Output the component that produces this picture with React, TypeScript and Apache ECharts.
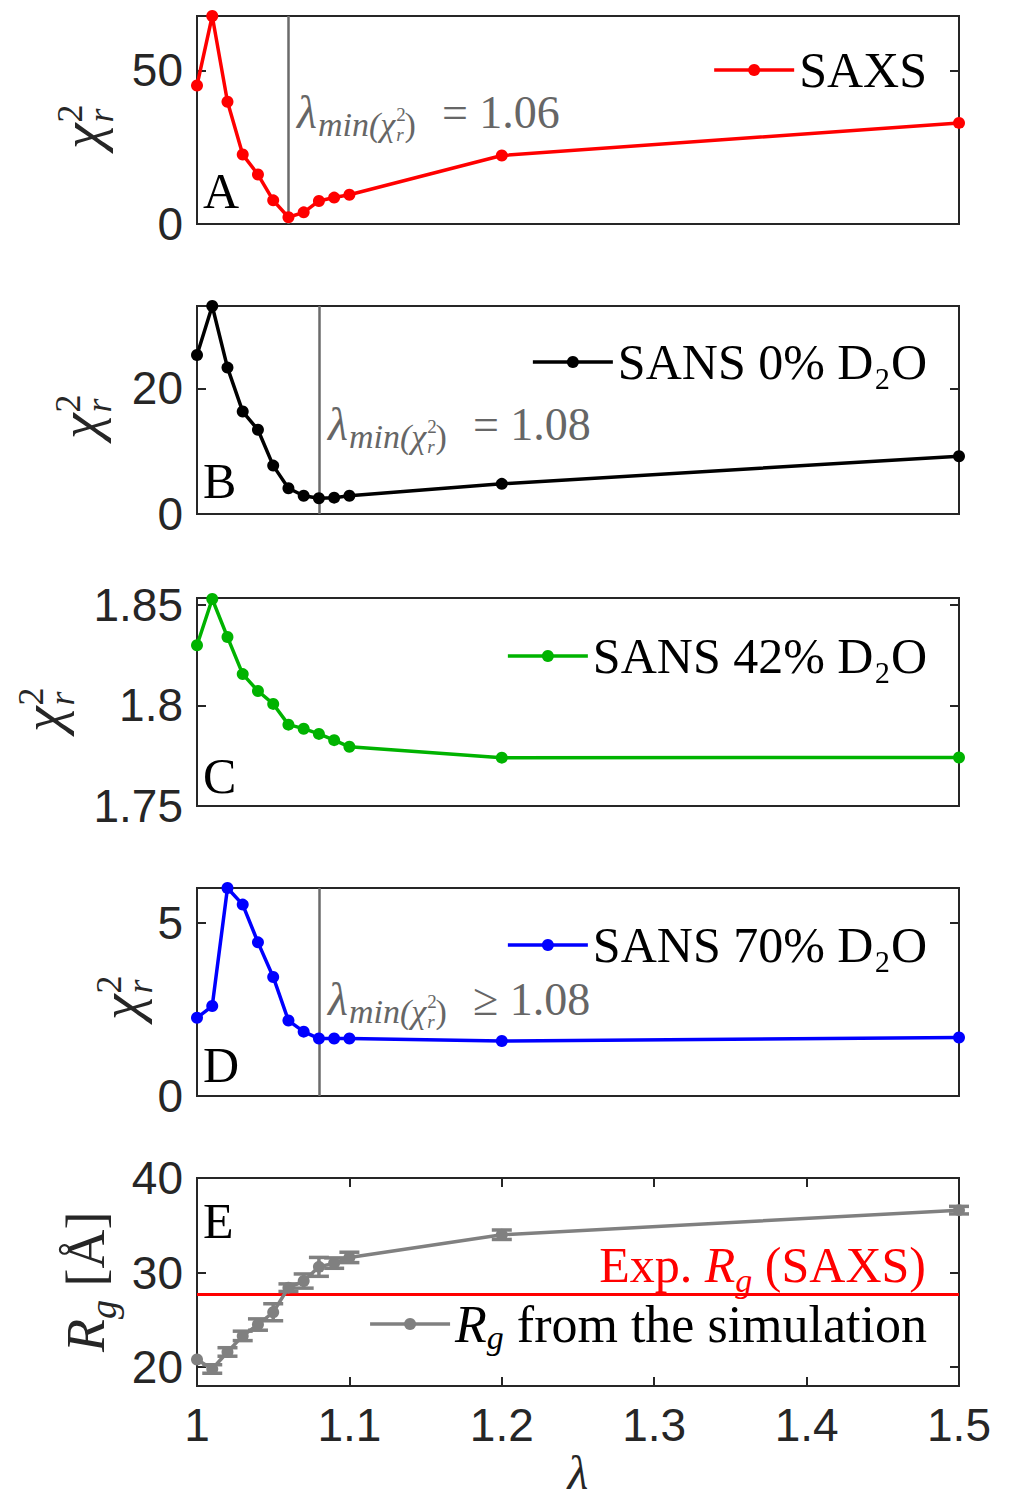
import React, { useEffect, useRef } from "react";
import * as echarts from "echarts";

// ---------------- data ----------------
const lambda = [1.0, 1.01, 1.02, 1.03, 1.04, 1.05, 1.06, 1.07, 1.08, 1.09, 1.1, 1.2, 1.5];
const chiSAXS = [45.1, 67.7, 39.8, 22.6, 16.1, 7.7, 2.2, 3.8, 7.5, 8.6, 9.5, 22.3, 32.9];
const chiSANS0 = [25.3, 33.1, 23.3, 16.3, 13.4, 7.7, 4.1, 2.9, 2.5, 2.6, 2.9, 4.8, 9.2];
const chiSANS42 = [1.8298, 1.8528, 1.8339, 1.8155, 1.8071, 1.8007, 1.7904, 1.7884, 1.7858, 1.7827, 1.7794, 1.774, 1.7741];
const chiSANS70 = [2.26, 2.6, 6.01, 5.53, 4.44, 3.44, 2.18, 1.86, 1.66, 1.66, 1.66, 1.59, 1.69];
const rgSim = [20.8, 19.8, 21.6, 23.3, 24.5, 25.8, 28.4, 29.1, 30.6, 31.0, 31.6, 34.0, 36.6];
const rgErr = [0, 0.45, 0.45, 0.5, 0.6, 0.9, 0.4, 0.75, 1.0, 0.55, 0.55, 0.5, 0.4];
const rgExp = 27.7;
const lambdaMinA = 1.06;
const lambdaMinB = 1.08;
const lambdaMinD = 1.08;
const seriesNames = ["SAXS", "SANS 0% D₂O", "SANS 42% D₂O", "SANS 70% D₂O", "Rg"];
const panelLetters = ["A", "B", "C", "D", "E"];
const yRanges: any[] = [
  { min: 0, max: 67.7, interval: 50, hideMin: false, hideMax: true },
  { min: 0, max: 33.1, interval: 20, hideMin: false, hideMax: true },
  { min: 1.75, max: 1.8533, interval: 0.05, hideMin: false, hideMax: true },
  { min: 0, max: 6.01, interval: 5, hideMin: false, hideMax: true },
  { min: 18, max: 40, splitNumber: 2, hideMin: true, hideMax: false },
];

// ---------------- layout / style ----------------
const SERIF = "Liberation Serif";
const SANS = "Liberation Sans";
const AXIS_COLOR = "#262626";
const ANNOT_COLOR = "#666666";
const GRID_LEFT = 197;
const GRID_WIDTH = 762;
const GRID_HEIGHT = 208;
const GRID_TOPS = [16, 306, 598, 888, 1178];
const LEGEND_CENTERS = [70, 362, 656, 945, 1328];
const COLORS = ["#ff0000", "#000000", "#00b300", "#0000ff", "#808080"];
const LINE_W = 3.5;

let _ctx: CanvasRenderingContext2D | null = null;
function textWidth(text: string, font: string) {
  if (!_ctx) _ctx = document.createElement("canvas").getContext("2d");
  _ctx!.font = font;
  return _ctx!.measureText(text).width;
}

type Tok = { t: string; size: number; italic?: boolean; dy?: number; dx?: number; noAdv?: boolean; family?: string };

function mathRun(tokens: Tok[], x0: number, baseY: number, color: string, anchor: "left" | "right" = "left") {
  const fonts = tokens.map((k) => `${k.italic ? "italic " : ""}${k.size}px "${k.family || SERIF}"`);
  const widths = tokens.map((k, i) => textWidth(k.t, fonts[i]));
  let total = 0;
  tokens.forEach((k, i) => {
    total += k.dx || 0;
    if (!k.noAdv) total += widths[i];
  });
  let cx = anchor === "right" ? x0 - total : x0;
  const els: any[] = [];
  tokens.forEach((k, i) => {
    cx += k.dx || 0;
    els.push({
      type: "text",
      x: cx,
      y: baseY + (k.dy || 0) - 0.34 * k.size,
      silent: true,
      style: {
        text: k.t,
        font: fonts[i],
        fill: color,
        align: "left",
        verticalAlign: "middle",
        textAlign: "left",
        textVerticalAlign: "middle",
      },
    });
    if (!k.noAdv) cx += widths[i];
  });
  return els;
}

function rotated(children: any[], x: number, y: number) {
  return { type: "group", x, y, rotation: Math.PI / 2, children };
}

const chiTokens: Tok[] = [
  { t: "χ", size: 58, italic: true },
  { t: "2", size: 36, dy: -19, dx: 1, noAdv: true },
  { t: "r", size: 36, italic: true, dy: 12 },
];

const annotTokens = (rel: string, val: number): Tok[] => [
  { t: "λ", size: 46, italic: true },
  { t: "min(χ", size: 34, italic: true, dy: 8, dx: 1 },
  { t: "2", size: 19, dy: -7, dx: 1, noAdv: true },
  { t: "r", size: 19, italic: true, dy: 13 },
  { t: ")", size: 34, dy: 8, dx: 1 },
  { t: `${rel} ${val.toFixed(2)}`, size: 46, dx: 26 },
];

function buildOption() {
  const grids = GRID_TOPS.map((top) => ({
    left: GRID_LEFT,
    top,
    width: GRID_WIDTH,
    height: GRID_HEIGHT,
    show: true,
    borderColor: AXIS_COLOR,
    borderWidth: 2,
    backgroundColor: "transparent",
    containLabel: false,
    outerBoundsMode: "none",
  }));

  const tickStyle = { color: AXIS_COLOR, width: 2 };
  const xAxes: any[] = GRID_TOPS.map((_, i) => ({
    type: "value",
    gridIndex: i,
    min: 1,
    max: 1.5,
    interval: 0.1,
    axisLine: { show: false },
    splitLine: { show: false },
    axisTick: { show: i === 4, inside: true, length: 9, lineStyle: tickStyle },
    axisLabel: { show: i === 4, fontFamily: SANS, fontSize: 46, color: AXIS_COLOR, margin: 16 },
    name: i === 4 ? "λ" : "",
    nameLocation: "middle",
    nameGap: 46,
    nameTextStyle: { fontFamily: SERIF, fontStyle: "italic", fontSize: 48, color: AXIS_COLOR },
  }));
  xAxes.push({
    type: "value",
    gridIndex: 4,
    position: "top",
    min: 1,
    max: 1.5,
    interval: 0.1,
    axisLine: { show: false },
    splitLine: { show: false },
    axisTick: { show: true, inside: true, length: 9, lineStyle: tickStyle },
    axisLabel: { show: false },
  });

  const yAxes: any[] = [];
  yRanges.forEach((r, i) => {
    const common: any = { type: "value", gridIndex: i, min: r.min, max: r.max, axisLine: { show: false }, splitLine: { show: false } };
    if (r.interval !== undefined) common.interval = r.interval;
    if (r.splitNumber !== undefined) common.splitNumber = r.splitNumber;
    yAxes.push({
      ...common,
      position: "left",
      axisTick: { show: true, inside: true, length: 9, lineStyle: tickStyle },
      axisLabel: {
        show: true,
        fontFamily: SANS,
        fontSize: 46,
        color: AXIS_COLOR,
        margin: 14,
        showMinLabel: !r.hideMin,
        showMaxLabel: !r.hideMax,
      },
    });
    yAxes.push({
      ...common,
      position: "right",
      axisTick: { show: true, inside: true, length: 9, lineStyle: tickStyle },
      axisLabel: { show: false },
    });
  });

  const vLine = (x: number) => ({
    z: 1,
    silent: true,
    symbol: ["none", "none"],
    label: { show: false },
    lineStyle: { color: "#6b6b6b", width: 2.5, type: "solid" },
    emphasis: { disabled: true },
    data: [{ xAxis: x }],
  });

  const chiSeries = [chiSAXS, chiSANS0, chiSANS42, chiSANS70];
  const vLines = [lambdaMinA, lambdaMinB, null, lambdaMinD];
  const series: any[] = chiSeries.map((vals, i) => {
    const s: any = {
      type: "line",
      name: seriesNames[i],
      xAxisIndex: i,
      yAxisIndex: 2 * i,
      data: lambda.map((l, k) => [l, vals[k]]),
      symbol: "circle",
      symbolSize: 12,
      showSymbol: true,
      clip: false,
      z: 3,
      color: COLORS[i],
      itemStyle: { color: COLORS[i] },
      lineStyle: { color: COLORS[i], width: LINE_W },
      emphasis: { disabled: true },
    };
    if (vLines[i] !== null) s.markLine = vLine(vLines[i] as number);
    return s;
  });

  series.push({
    type: "custom",
    name: "RgErr",
    xAxisIndex: 4,
    yAxisIndex: 8,
    z: 2,
    clip: false,
    data: lambda.map((l, k) => [l, rgSim[k] - rgErr[k], rgSim[k] + rgErr[k]]),
    encode: { x: 0, y: [1, 2] },
    renderItem: (params: any, api: any) => {
      const x = api.value(0);
      const lo = api.value(1);
      const hi = api.value(2);
      if (hi - lo <= 0) return null;
      const p1 = api.coord([x, lo]);
      const p2 = api.coord([x, hi]);
      const hw = 10;
      const st = { stroke: COLORS[4], lineWidth: 3.5 };
      return {
        type: "group",
        children: [
          { type: "line", shape: { x1: p1[0], y1: p1[1], x2: p2[0], y2: p2[1] }, style: st },
          { type: "line", shape: { x1: p1[0] - hw, y1: p1[1], x2: p1[0] + hw, y2: p1[1] }, style: st },
          { type: "line", shape: { x1: p2[0] - hw, y1: p2[1], x2: p2[0] + hw, y2: p2[1] }, style: st },
        ],
      };
    },
    markLine: {
      z: 1,
      silent: true,
      symbol: ["none", "none"],
      label: { show: false },
      lineStyle: { color: "#ff0000", width: 3, type: "solid" },
      emphasis: { disabled: true },
      data: [{ yAxis: rgExp }],
    },
  });

  series.push({
    type: "line",
    name: seriesNames[4],
    xAxisIndex: 4,
    yAxisIndex: 8,
    data: lambda.map((l, k) => [l, rgSim[k]]),
    symbol: "circle",
    symbolSize: 12,
    clip: false,
    z: 3,
    color: COLORS[4],
    itemStyle: { color: COLORS[4] },
    lineStyle: { color: COLORS[4], width: LINE_W },
    emphasis: { disabled: true },
  });

  const legends = seriesNames.map((n, i) => {
    const base: any = {
      data: [n],
      right: 83,
      top: LEGEND_CENTERS[i] - (i === 4 ? 30 : 25),
      orient: "horizontal",
      padding: 0,
      itemWidth: 80,
      itemHeight: 15,
      selectedMode: false,
      lineStyle: { width: LINE_W },
      textStyle: { fontFamily: SERIF, fontSize: 50, color: "#000" },
    };
    if (i === 4) {
      base.formatter = () => "{R|R}{g|g}{n| from the simulation}";
      base.textStyle = {
        fontFamily: SERIF,
        fontSize: 52,
        color: "#000",
        rich: {
          R: { fontFamily: SERIF, fontStyle: "italic", fontSize: 52, color: "#000" },
          g: { fontFamily: SERIF, fontStyle: "italic", fontSize: 34, color: "#000", padding: [26, 0, 0, 0] },
          n: { fontFamily: SERIF, fontSize: 52, color: "#000" },
        },
      };
    }
    return base;
  });

  const graphics: any[] = [];
  // y-axis labels
  const chiPos = [
    [101, 149],
    [99, 439],
    [62, 732],
    [140, 1020],
  ];
  chiPos.forEach(([x, y]) => graphics.push(rotated(mathRun(chiTokens, 0, 0, AXIS_COLOR), x, y)));
  graphics.push(
    rotated(
      mathRun(
        [
          { t: "R", size: 54, italic: true },
          { t: "g", size: 38, italic: true, dy: 12 },
          { t: " [Å]", size: 54 },
        ],
        0,
        0,
        AXIS_COLOR
      ),
      104,
      1352
    )
  );
  // annotations
  graphics.push(...mathRun(annotTokens("=", lambdaMinA), 297, 128, ANNOT_COLOR));
  graphics.push(...mathRun(annotTokens("=", lambdaMinB), 328, 440, ANNOT_COLOR));
  graphics.push(...mathRun(annotTokens("≥", lambdaMinD), 328, 1015, ANNOT_COLOR));
  // panel letters
  const letterBase = [208, 498, 793, 1082, 1238];
  panelLetters.forEach((L, i) => graphics.push(...mathRun([{ t: L, size: 50 }], 203, letterBase[i], "#000")));
  // experimental Rg label
  graphics.push(
    ...mathRun(
      [
        { t: "Exp. ", size: 50 },
        { t: "R", size: 50, italic: true },
        { t: "g", size: 34, italic: true, dy: 10 },
        { t: " (SAXS)", size: 50 },
      ],
      926,
      1282,
      "#ff0000",
      "right"
    )
  );

  return {
    animation: false,
    backgroundColor: "#ffffff",
    grid: grids,
    xAxis: xAxes,
    yAxis: yAxes,
    legend: legends,
    series,
    graphic: graphics,
  };
}

export default function App() {
  const ref = useRef<HTMLDivElement>(null);
  useEffect(() => {
    const chart = echarts.init(ref.current!, null, { renderer: "svg" });
    chart.setOption(buildOption() as any);
    return () => chart.dispose();
  }, []);
  return (
    <div
      ref={ref}
      style={{ position: "absolute", left: 0, top: 0, width: 1010, height: 1496, background: "#fff" }}
    />
  );
}
